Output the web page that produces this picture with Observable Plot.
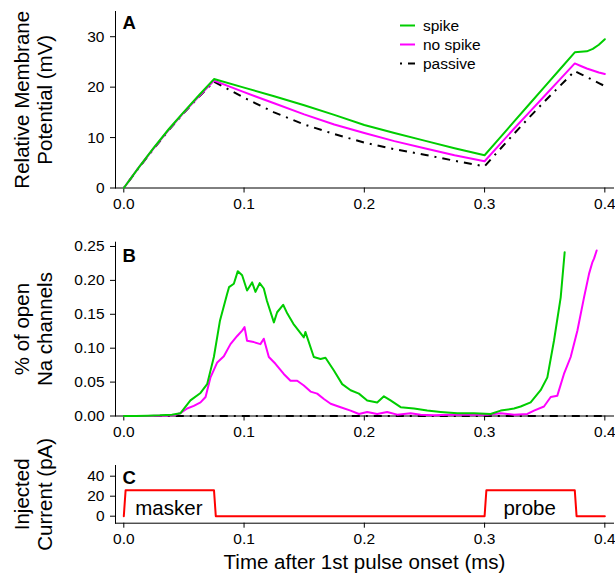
<!DOCTYPE html>
<html><head><meta charset="utf-8">
<script src="https://cdn.jsdelivr.net/npm/d3@7"></script>
<script src="https://cdn.jsdelivr.net/npm/@observablehq/plot@0.6"></script>
<style>
html,body{margin:0;padding:0;background:#fff;}
#chart{position:relative;width:615px;height:575px;font-family:"Liberation Sans",Arial,sans-serif;color:#000;}
#chart svg{display:block;}
#legend{position:absolute;left:400px;top:16px;font-size:15.5px;line-height:19px;}
.row{display:flex;align-items:center;height:19px;}
.row svg{margin-right:8px;}
</style></head><body><div id="chart"><div id="legend"></div></div>
<script>
// ---- data ----
const seriesNames = ["spike", "no spike", "passive"];
const seriesColors = ["#00CD00", "#FF00FF", "#000000"];

const xTicks = [0, 0.1, 0.2, 0.3, 0.4];
const yTicksA = [0, 10, 20, 30];
const yTicksB = [0, 0.05, 0.10, 0.15, 0.20, 0.25];
const yTicksC = [0, 20, 40];

// Panel A: relative membrane potential (mV)
const timeA    = [0, 0.0125, 0.025, 0.0375, 0.05, 0.0625, 0.075, 0.1, 0.125, 0.15, 0.175, 0.2, 0.225, 0.25, 0.275, 0.3, 0.3125, 0.325, 0.3375, 0.35, 0.3625, 0.375, 0.38, 0.385, 0.39, 0.395, 0.4];
const spikeV   = [0, 4.1, 8.0, 11.7, 15.1, 18.4, 21.6, 19.9, 18.2, 16.4, 14.5, 12.5, 10.9, 9.4, 7.9, 6.5, 9.9, 13.3, 16.7, 20.1, 23.5, 26.9, 27.0, 27.1, 27.6, 28.4, 29.5];
const noSpikeV = [0, 4.1, 7.9, 11.6, 15.0, 18.2, 21.3, 19.0, 16.8, 14.6, 12.6, 10.9, 9.3, 7.9, 6.5, 5.3, 8.6, 11.9, 15.1, 18.3, 21.5, 24.7, 24.2, 23.7, 23.3, 22.9, 22.6];
const passiveV = [0, 4.0, 7.8, 11.5, 14.9, 18.1, 21.1, 17.9, 15.0, 12.6, 10.7, 9.0, 7.7, 6.6, 5.4, 4.3, 7.6, 10.9, 14.1, 17.2, 20.2, 23.2, 22.6, 22.0, 21.4, 20.8, 20.2];

// Panel B: fraction of open Na channels
const spikeNaT = [0, 0.01, 0.02, 0.03, 0.04, 0.047, 0.0554, 0.0638, 0.0693, 0.0749, 0.080, 0.0859, 0.0875, 0.0915, 0.0948, 0.0984, 0.1025, 0.1067, 0.1095, 0.113, 0.1164, 0.119, 0.1248, 0.1275, 0.1325, 0.136, 0.141, 0.1497, 0.151, 0.158, 0.1636, 0.1677, 0.1747, 0.1816, 0.1886, 0.1955, 0.2024, 0.2107, 0.2163, 0.2218, 0.2302, 0.2413, 0.2523, 0.2634, 0.2773, 0.2912, 0.305, 0.3134, 0.3245, 0.33, 0.3383, 0.3466, 0.3522, 0.3577, 0.3633, 0.3666];
const spikeNa  = [0, 0, 0.0005, 0.001, 0.002, 0.004, 0.023, 0.034, 0.047, 0.087, 0.141, 0.180, 0.190, 0.195, 0.2136, 0.2075, 0.185, 0.197, 0.183, 0.196, 0.188, 0.170, 0.138, 0.153, 0.164, 0.151, 0.136, 0.116, 0.124, 0.087, 0.084, 0.086, 0.067, 0.047, 0.038, 0.033, 0.023, 0.020, 0.029, 0.023, 0.013, 0.011, 0.008, 0.006, 0.004, 0.004, 0.003, 0.008, 0.011, 0.014, 0.020, 0.038, 0.057, 0.111, 0.175, 0.2416];
const noSpikeNaT = [0, 0.01, 0.02, 0.03, 0.0415, 0.047, 0.0527, 0.0582, 0.0638, 0.068, 0.0721, 0.0777, 0.0832, 0.0887, 0.0943, 0.0984, 0.1004, 0.1025, 0.1081, 0.1136, 0.1164, 0.1206, 0.1261, 0.133, 0.1386, 0.1442, 0.1497, 0.1553, 0.1608, 0.1664, 0.172, 0.1803, 0.1886, 0.1955, 0.2024, 0.2107, 0.219, 0.2274, 0.2385, 0.2468, 0.2579, 0.2718, 0.2857, 0.3023, 0.3134, 0.3245, 0.3356, 0.3411, 0.3494, 0.355, 0.3605, 0.366, 0.3716, 0.3772, 0.3827, 0.3869, 0.3897, 0.391, 0.3932];
const noSpikeNa  = [0, 0, 0, 0.0005, 0.001, 0.004, 0.011, 0.015, 0.020, 0.028, 0.057, 0.079, 0.088, 0.106, 0.118, 0.126, 0.131, 0.111, 0.109, 0.106, 0.114, 0.087, 0.077, 0.062, 0.052, 0.052, 0.045, 0.036, 0.033, 0.025, 0.018, 0.013, 0.008, 0.003, 0.006, 0.003, 0.006, 0.002, 0.004, 0.002, 0.001, 0.002, 0.002, 0.002, 0.004, 0.002, 0.003, 0.008, 0.014, 0.028, 0.030, 0.062, 0.087, 0.126, 0.175, 0.210, 0.227, 0.232, 0.244];
const passiveNaT = [0, 0.05, 0.1, 0.15, 0.2, 0.25, 0.3, 0.35, 0.4];
const passiveNa  = [0, 0, 0, 0, 0, 0, 0, 0, 0];

// Panel C: injected current (pA)
const currentT = [0, 0.0015, 0.075, 0.0765, 0.3, 0.3015, 0.375, 0.3765, 0.4];
const currentI = [0, 26, 26, 0, 0, 26, 26, 0, 0];
const pulseNames = ["masker", "probe"];
const pulseOn  = [0, 0.3];
const pulseOff = [0.075, 0.375];

// ---- drawing ----
const font = "'Liberation Sans', Arial, sans-serif";
const xDomain = [-0.0069, 0.4072];
const xOpts = {domain: xDomain, ticks: xTicks, tickFormat: d3.format(".1f"), tickSize: 5, tickPadding: 5, line: true, label: null};
const yOpts = (domain, ticks, fmt) => ({domain, ticks, tickFormat: fmt, tickSize: 5, tickPadding: 6, line: true, label: null});
const pairs = (xs, ys) => xs.map((x, i) => [x, ys[i]]);
const lineStyle = (k) => k === 2
  ? {stroke: seriesColors[k], strokeWidth: 2, strokeDasharray: "2,6,8,6", strokeLinecap: "butt"}
  : {stroke: seriesColors[k], strokeWidth: 2};
const yTitle = (txt) => Plot.text([txt], {frameAnchor: "left", dx: -82.3, rotate: -90, fontSize: 20.5, lineHeight: 1.1, textAnchor: "middle", fill: "#000"});
const letter = (txt, dy) => Plot.text([txt], {frameAnchor: "top-left", dx: 7, dy, lineAnchor: "top", textAnchor: "start", fontWeight: "bold", fontSize: 18.5, fill: "#000"});
const base = (h, mt, mb) => ({width: 615, height: h, marginLeft: 115, marginRight: 2, marginTop: mt, marginBottom: mb,
  style: {fontFamily: font, fontSize: "15.5px", color: "#000", background: "#fff", overflow: "visible"}});

const plotA = Plot.plot({
  ...base(225, 11, 37.5),
  x: xOpts,
  y: yOpts([0, 35], yTicksA, d3.format("d")),
  marks: [
    Plot.line(pairs(timeA, passiveV), lineStyle(2)),
    Plot.line(pairs(timeA, noSpikeV), lineStyle(1)),
    Plot.line(pairs(timeA, spikeV), lineStyle(0)),
    letter("A", 4),
    yTitle("Relative Membrane\nPotential (mV)")
  ]
});

const plotB = Plot.plot({
  ...base(225, 16.7, 34.5),
  x: xOpts,
  y: yOpts([0, 0.2563], yTicksB, d3.format(".2f")),
  marks: [
    Plot.line(pairs(passiveNaT, passiveNa), lineStyle(2)),
    Plot.line(pairs(noSpikeNaT, noSpikeNa), lineStyle(1)),
    Plot.line(pairs(spikeNaT, spikeNa), lineStyle(0)),
    letter("B", 7),
    yTitle("% of open\nNa channels")
  ]
});

const plotC = Plot.plot({
  ...base(125, 15, 52.3),
  x: xOpts,
  y: yOpts([-7, 50.7], yTicksC, d3.format("d")),
  marks: [
    Plot.line(pairs(currentT, currentI), {stroke: "#FF0000", strokeWidth: 2}),
    Plot.text(pulseNames, {x: (d, i) => (pulseOn[i] + pulseOff[i]) / 2, y: () => 0, text: d => d, lineAnchor: "bottom", dy: -1.5, fontSize: 20.5, fill: "#000"}),
    letter("C", 5),
    yTitle("Injected\nCurrent (pA)"),
    Plot.text(["Time after 1st pulse onset (ms)"], {frameAnchor: "bottom", lineAnchor: "top", dy: 31, fontSize: 20.5, fill: "#000"})
  ]
});

const chart = document.getElementById("chart");
chart.insertBefore(plotC, chart.firstChild);
chart.insertBefore(plotB, plotC);
chart.insertBefore(plotA, plotB);

// legend
const legend = document.getElementById("legend");
seriesNames.forEach((name, k) => {
  const row = document.createElement("div");
  row.className = "row";
  const s = lineStyle(k);
  row.innerHTML = `<svg width="15" height="19"><line x1="0" x2="15" y1="9.5" y2="9.5" stroke="${s.stroke}" stroke-width="2" ${s.strokeDasharray ? `stroke-dasharray="${s.strokeDasharray}"` : ""}/></svg><span>${name}</span>`;
  legend.appendChild(row);
});
</script></body></html>
